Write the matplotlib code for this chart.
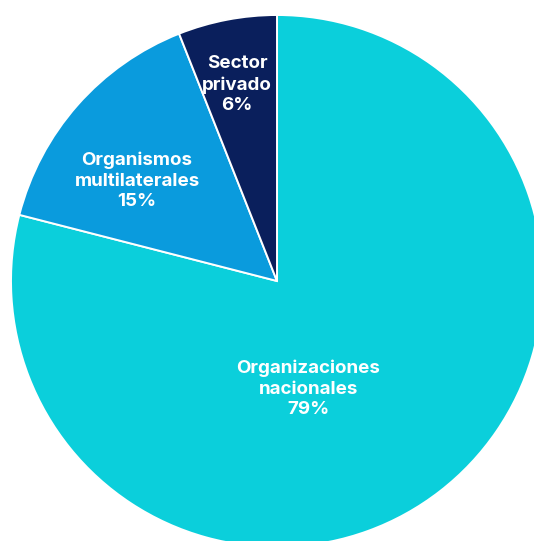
import matplotlib.pyplot as plt

labels = ["Organizaciones\nnacionales", "Organismos\nmultilaterales", "Sector\nprivado"]
shares = [79, 15, 6]
colors = ["#0bcfdb", "#0a9bdd", "#0a1f5c"]
# label anchor points in axis units (pie radius = 1)
label_xy = [(0.117, -0.406), (-0.526, 0.376), (-0.150, 0.737)]

fig = plt.figure(figsize=(5.34, 5.41), dpi=100)
ax = fig.add_axes([0, 0, 1, 1])

# order wedges so they run clockwise from 12 o'clock: nacionales, multilaterales, privado
ax.pie(shares, colors=colors, startangle=90, counterclock=False,
       wedgeprops=dict(edgecolor="white", linewidth=1.4))

for lab, val, (x, y) in zip(labels, shares, label_xy):
    ax.text(x, y, f"{lab}\n{val}%", ha="center", va="center", color="white",
            fontsize=13.5, fontweight="bold", family="Inter", linespacing=1.28)

ax.set_xlim(-277 / 266, 257 / 266)
ax.set_ylim(-260 / 266, 281 / 266)
ax.set_aspect("equal")
ax.axis("off")
fig.savefig("out.png", dpi=100)
